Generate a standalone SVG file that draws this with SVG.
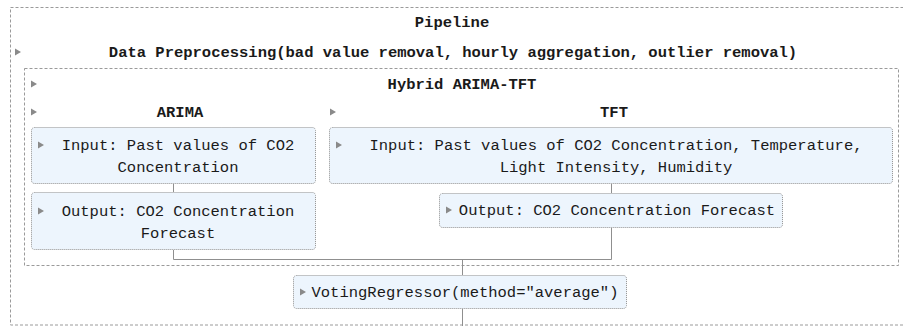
<svg xmlns="http://www.w3.org/2000/svg" width="903" height="326" viewBox="0 0 903 326">
<style>
.frame{fill:none;stroke:#9a9a9a;stroke-width:1;stroke-dasharray:3 2}
.box{fill:#edf5fd;stroke:#8f8f8f;stroke-width:1;stroke-dasharray:1 1}
.lbl{font-family:"Liberation Mono","Courier New",monospace;font-size:15.5px;font-weight:bold;fill:#1a1a1a;text-anchor:middle}
.txt{font-family:"Liberation Mono","Courier New",monospace;font-size:15.5px;fill:#1a1a1a;text-anchor:middle}
.tri{fill:#8a8a8a}
.conn{fill:none;stroke:#8f8f8f;stroke-width:1}
</style>
<defs>
<polygon id="arrow" points="0,-3.5 6,0 0,3.5" class="tri"/>
</defs>
<rect class="frame" x="10.5" y="7.5" width="900" height="317.5"/>
<g id="pipeline">
<text class="lbl" x="452" y="27">Pipeline</text>
</g>
<g id="preprocessing">
<use href="#arrow" x="15" y="52"/>
<text class="lbl" x="453" y="57">Data Preprocessing(bad value removal, hourly aggregation, outlier removal)</text>
</g>
<g id="hybrid">
<rect class="frame" x="24.5" y="68.5" width="874" height="197"/>
<use href="#arrow" x="31" y="84"/>
<text class="lbl" x="462" y="89">Hybrid ARIMA-TFT</text>
</g>
<g id="arima">
<use href="#arrow" x="31" y="112"/>
<text class="lbl" x="180" y="117">ARIMA</text>
</g>
<g id="tft">
<use href="#arrow" x="330" y="112"/>
<text class="lbl" x="614" y="117">TFT</text>
</g>
<g id="conns">
<path class="conn" d="M173.5,184 V192"/>
<path class="conn" d="M611.5,184 V193"/>
<path class="conn" d="M173.5,250 V259.5 H611.5 V228"/>
<path class="conn" d="M462.5,259.5 V275"/>
<path class="conn" d="M462.5,309 V326"/>
</g>
<g id="arima-input">
<rect class="box" x="31.5" y="127.5" width="284" height="56" rx="3"/>
<use href="#arrow" x="38" y="145"/>
<text class="txt" x="178" y="150">Input: Past values of CO2</text>
<text class="txt" x="178" y="172">Concentration</text>
</g>
<g id="arima-output">
<rect class="box" x="31.5" y="192.5" width="284" height="57" rx="3"/>
<use href="#arrow" x="38" y="211"/>
<text class="txt" x="178" y="216">Output: CO2 Concentration</text>
<text class="txt" x="178" y="238">Forecast</text>
</g>
<g id="tft-input">
<rect class="box" x="329.5" y="127.5" width="563" height="56" rx="3"/>
<use href="#arrow" x="336" y="145"/>
<text class="txt" x="616" y="150">Input: Past values of CO2 Concentration, Temperature,</text>
<text class="txt" x="616" y="172">Light Intensity, Humidity</text>
</g>
<g id="tft-output">
<rect class="box" x="439.5" y="193.5" width="343" height="34" rx="3"/>
<use href="#arrow" x="446" y="210"/>
<text class="txt" x="617" y="215">Output: CO2 Concentration Forecast</text>
</g>
<g id="voting">
<rect class="box" x="293.5" y="275.5" width="333" height="33" rx="3"/>
<use href="#arrow" x="300" y="292"/>
<text class="txt" x="465" y="297">VotingRegressor(method="average")</text>
</g>
</svg>
